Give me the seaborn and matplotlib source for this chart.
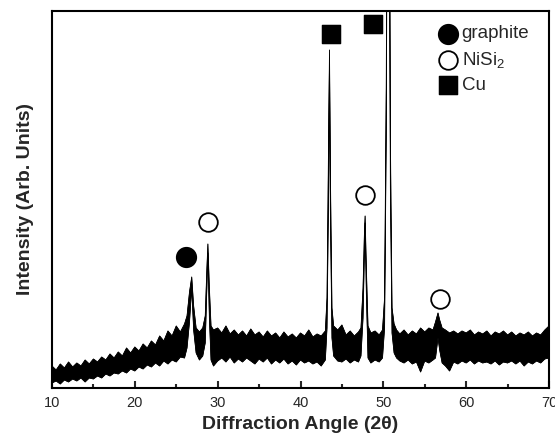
import numpy as np
import pandas as pd
import matplotlib.pyplot as plt
from matplotlib.ticker import MultipleLocator
import seaborn as sns

# --- XRD pattern (upper / lower edge of the noisy trace) ---
angle = [10, 10.5, 11, 11.5, 12, 12.5, 13, 13.5, 14, 14.5, 15, 15.5, 16, 16.5, 17, 17.5,
         18, 18.5, 19, 19.5, 20, 20.5, 21, 21.5, 22, 22.5, 23, 23.5, 24, 24.5, 25, 25.5, 26,
         26.3, 26.6, 26.87, 27.1, 27.4, 27.8, 28.2, 28.5, 28.7, 28.82, 29.0, 29.2, 29.5,
         30, 30.5, 31, 31.5, 32, 32.5, 33, 33.5, 34, 34.5, 35, 35.5, 36, 36.5, 37, 37.5,
         38, 38.5, 39, 39.5, 40, 40.5, 41, 41.5, 42, 42.5, 43.0,
         43.2, 43.4, 43.5, 43.6, 43.8, 44.0, 44.5, 45, 45.5, 46, 46.5, 47.0, 47.3,
         47.55, 47.7, 47.8, 47.95, 48.15, 48.5, 49, 49.5, 49.9,
         50.15, 50.35, 50.5, 50.7, 50.85, 51.05, 51.3, 51.6, 52, 52.5, 53, 53.5, 54, 54.5,
         55, 55.5, 56, 56.3, 56.6, 56.8, 57.1, 57.5, 58, 58.5, 59, 59.5, 60, 60.5, 61, 61.5,
         62, 62.5, 63, 63.5, 64, 64.5, 65, 65.5, 66, 66.5, 67, 67.5, 68, 68.5, 69, 69.5, 70]
upper = [22, 18, 24, 20, 26, 21, 25, 22, 28, 24, 29, 26, 31, 28, 34, 30,
         36, 32, 40, 35, 41, 37, 44, 40, 47, 43, 52, 47, 57, 52, 62, 56, 64,
         72, 96, 111, 82, 60, 56, 60, 72, 120, 144, 100, 62, 58,
         60, 55, 62, 54, 58, 53, 57, 52, 59, 53, 56, 51, 57, 52, 55, 50,
         56, 51, 54, 50, 55, 52, 58, 51, 54, 52, 57,
         90, 250, 338, 220, 80, 62, 58, 63, 53, 57, 52, 56, 60,
         100, 150, 172, 120, 62, 55, 57, 53, 58,
         90, 300, 600, 600, 250, 80, 64, 58, 54, 58, 53, 57, 54, 60,
         56, 60, 58, 66, 75, 68, 60, 58, 55, 57, 54, 57, 55, 58, 53, 56,
         54, 57, 52, 56, 54, 57, 53, 56, 52, 55, 53, 56, 52, 55, 53, 58, 62]
lower = [5, 7, 4, 8, 6, 9, 7, 10, 6, 10, 9, 12, 10, 14, 12, 15,
         14, 17, 15, 19, 17, 21, 19, 23, 21, 25, 22, 27, 24, 28, 26, 31, 30,
         40, 66, 100, 58, 35, 28, 32, 45, 100, 135, 70, 28, 22,
         27, 30, 26, 31, 25, 29, 26, 30, 27, 24, 29, 26, 30, 24, 28, 25,
         29, 24, 27, 23, 28, 25, 27, 24, 26, 22, 28,
         60, 200, 330, 180, 50, 32, 27, 26, 29, 25, 28, 26, 32,
         70, 130, 165, 95, 30, 25, 28, 26, 30,
         60, 250, 580, 580, 200, 55, 35, 30, 27, 25, 28, 24, 26, 16,
         27, 25, 28, 30, 50, 38, 25, 22, 17, 26, 24, 27, 25, 28, 24, 27,
         25, 26, 24, 27, 23, 26, 25, 27, 24, 27, 22, 26, 24, 27, 25, 29, 30]

# phase markers
graphite_x = [26.2]
graphite_y = [131]
nisi2_x = [28.83, 47.79, 56.84]
nisi2_y = [166, 193, 89]
cu_x = [43.68, 48.75]
cu_y = [354, 364]

df = pd.DataFrame({'angle': angle, 'upper': upper, 'lower': lower})

sns.set_style('ticks')
plt.rcParams['font.family'] = ['Liberation Sans', 'DejaVu Sans']
plt.rcParams['mathtext.fontset'] = 'custom'
plt.rcParams['mathtext.rm'] = 'Liberation Sans'
plt.rcParams['mathtext.it'] = 'Liberation Sans:italic'
plt.rcParams['mathtext.bf'] = 'Liberation Sans:bold'

fig = plt.figure(figsize=(5.55, 4.36), dpi=100)
ax = fig.add_axes([0.0937, 0.1101, 0.8955, 0.8647])

ax.fill_between(df['angle'], df['lower'], df['upper'], color='black', lw=0.4)
sns.lineplot(data=df, x='angle', y='upper', color='black', lw=0.6, ax=ax)
sns.lineplot(data=df, x='angle', y='lower', color='black', lw=0.6, ax=ax)

sns.scatterplot(x=graphite_x, y=graphite_y, marker='o', s=200, color='black',
                edgecolor='black', label='graphite', ax=ax, zorder=5)
sns.scatterplot(x=nisi2_x, y=nisi2_y, marker='o', s=180, color='white',
                edgecolor='black', linewidth=1.3, label='NiSi$_2$', ax=ax, zorder=5)
sns.scatterplot(x=cu_x, y=cu_y, marker='s', s=180, color='black',
                edgecolor='black', label='Cu', ax=ax, zorder=5)

ax.set_xlim(10, 70)
ax.set_ylim(0, 377)
ax.set_xticks(range(10, 71, 10))
ax.xaxis.set_minor_locator(MultipleLocator(5))
ax.set_yticks([])
ax.tick_params(axis='x', which='major', direction='in', length=5, width=1.5,
               labelsize=10.5, pad=6, top=False)
ax.tick_params(axis='x', which='minor', direction='in', length=3, width=1.5, top=False)
for s in ax.spines.values():
    s.set_linewidth(1.5)
    s.set_color('black')

ax.set_xlabel('Diffraction Angle (2θ)', fontsize=14, fontweight='bold', labelpad=4)
ax.set_ylabel('Intensity (Arb. Units)', fontsize=14, fontweight='bold', labelpad=13)

ax.legend(loc='upper right', bbox_to_anchor=(0.96, 0.962), frameon=False,
          fontsize=13.5, borderpad=0, borderaxespad=0, handletextpad=0.1,
          labelspacing=0.38, handlelength=1.2)

plt.savefig('out.png', dpi=100)
